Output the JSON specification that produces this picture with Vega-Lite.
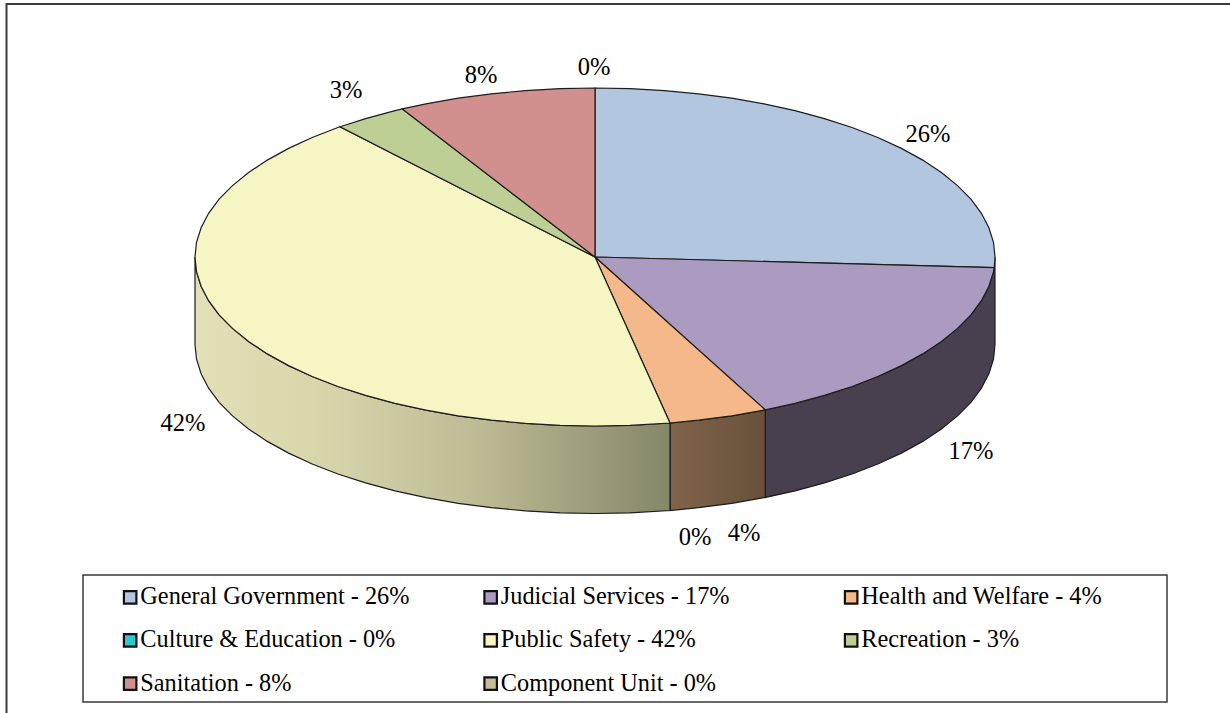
{"$schema":"https://vega.github.io/schema/vega-lite/v6.json","width":1230,"height":713,"autosize":"none","padding":0,"background":"white","view":{"stroke":null},
"encoding":{"x":{"field":"x","type":"quantitative","axis":null,"scale":{"domain":[-595,635],"nice":false,"zero":false}},"y":{"field":"y","type":"quantitative","axis":null,"scale":{"domain":[-456,257],"nice":false,"zero":false}}},
"layer":[
{"data":{"values":[{"i":0,"x":-588.5,"y":-456},{"i":1,"x":-588.5,"y":253},{"i":2,"x":635,"y":253}]},"mark":{"type":"line","stroke":"#3a3a3a","strokeWidth":2},"encoding":{"order":{"field":"i","type":"quantitative"}}},
{"data":{"values":[{"x":-512,"x2":572,"y":-318,"y2":-445}]},"mark":{"type":"rect","fill":"white","stroke":"#3a3a3a","strokeWidth":1.5},"encoding":{"x2":{"field":"x2"},"y2":{"field":"y2"}}},
{"data":{"values":[{"i":0,"x":400,"y":0},{"i":1,"x":398.5,"y":-14.7},{"i":2,"x":393.9,"y":-29.3},{"i":3,"x":386.4,"y":-43.7},{"i":4,"x":375.9,"y":-57.8},{"i":5,"x":362.5,"y":-71.4},{"i":6,"x":346.4,"y":-84.5},{"i":7,"x":327.7,"y":-96.9},{"i":8,"x":306.4,"y":-108.6},{"i":9,"x":282.8,"y":-119.5},{"i":10,"x":257.1,"y":-129.5},{"i":11,"x":229.4,"y":-138.4},{"i":12,"x":200,"y":-146.4},{"i":13,"x":170.3,"y":-152.9},{"i":14,"x":170.3,"y":-240.4},{"i":15,"x":200,"y":-233.9},{"i":16,"x":229.4,"y":-225.9},{"i":17,"x":257.1,"y":-217},{"i":18,"x":282.8,"y":-207},{"i":19,"x":306.4,"y":-196.1},{"i":20,"x":327.7,"y":-184.4},{"i":21,"x":346.4,"y":-172},{"i":22,"x":362.5,"y":-158.9},{"i":23,"x":375.9,"y":-145.3},{"i":24,"x":386.4,"y":-131.2},{"i":25,"x":393.9,"y":-116.8},{"i":26,"x":398.5,"y":-102.2},{"i":27,"x":400,"y":-87.5},{"i":28,"x":400,"y":0}]},"mark":{"type":"line","stroke":"#1c1c1c","strokeWidth":1.2,"fill":"#48404f"},"encoding":{"order":{"field":"i","type":"quantitative"}}},
{"data":{"values":[{"i":0,"x":170.3,"y":-152.9},{"i":1,"x":136.8,"y":-158.8},{"i":2,"x":103.5,"y":-163.2},{"i":3,"x":75,"y":-166},{"i":4,"x":75,"y":-253.5},{"i":5,"x":103.5,"y":-250.7},{"i":6,"x":136.8,"y":-246.3},{"i":7,"x":170.3,"y":-240.4},{"i":8,"x":170.3,"y":-152.9}]},"mark":{"type":"line","stroke":"#1c1c1c","strokeWidth":1.2,"fill":{"gradient":"linear","x1":0,"x2":1,"y1":0,"y2":0,"stops":[{"offset":0,"color":"#80644a"},{"offset":1,"color":"#68503a"}]}},"encoding":{"order":{"field":"i","type":"quantitative"}}},
{"data":{"values":[{"i":0,"x":75,"y":-166},{"i":1,"x":34.9,"y":-168.4},{"i":2,"x":0,"y":-169},{"i":3,"x":-34.9,"y":-168.4},{"i":4,"x":-69.5,"y":-166.4},{"i":5,"x":-103.5,"y":-163.2},{"i":6,"x":-136.8,"y":-158.8},{"i":7,"x":-169,"y":-153.2},{"i":8,"x":-200,"y":-146.4},{"i":9,"x":-229.4,"y":-138.4},{"i":10,"x":-257.1,"y":-129.5},{"i":11,"x":-282.8,"y":-119.5},{"i":12,"x":-306.4,"y":-108.6},{"i":13,"x":-327.7,"y":-96.9},{"i":14,"x":-346.4,"y":-84.5},{"i":15,"x":-362.5,"y":-71.4},{"i":16,"x":-375.9,"y":-57.8},{"i":17,"x":-386.4,"y":-43.7},{"i":18,"x":-393.9,"y":-29.3},{"i":19,"x":-398.5,"y":-14.7},{"i":20,"x":-400,"y":0},{"i":21,"x":-400,"y":-87.5},{"i":22,"x":-398.5,"y":-102.2},{"i":23,"x":-393.9,"y":-116.8},{"i":24,"x":-386.4,"y":-131.2},{"i":25,"x":-375.9,"y":-145.3},{"i":26,"x":-362.5,"y":-158.9},{"i":27,"x":-346.4,"y":-172},{"i":28,"x":-327.7,"y":-184.4},{"i":29,"x":-306.4,"y":-196.1},{"i":30,"x":-282.8,"y":-207},{"i":31,"x":-257.1,"y":-217},{"i":32,"x":-229.4,"y":-225.9},{"i":33,"x":-200,"y":-233.9},{"i":34,"x":-169,"y":-240.7},{"i":35,"x":-136.8,"y":-246.3},{"i":36,"x":-103.5,"y":-250.7},{"i":37,"x":-69.5,"y":-253.9},{"i":38,"x":-34.9,"y":-255.9},{"i":39,"x":0,"y":-256.5},{"i":40,"x":34.9,"y":-255.9},{"i":41,"x":75,"y":-253.5},{"i":42,"x":75,"y":-166}]},"mark":{"type":"line","stroke":"#1c1c1c","strokeWidth":1.2,"fill":{"gradient":"linear","x1":0,"x2":1,"y1":0,"y2":0,"stops":[{"offset":0,"color":"#e2e0b6"},{"offset":0.25,"color":"#d8d7ac"},{"offset":0.6,"color":"#bcbb94"},{"offset":1,"color":"#868669"}]}},"encoding":{"order":{"field":"i","type":"quantitative"}}},
{"data":{"values":[
{"slice":"General Government - 26%","i":0,"x":0,"y":0},{"slice":"General Government - 26%","i":1,"x":0,"y":169},{"slice":"General Government - 26%","i":2,"x":34.9,"y":168.4},{"slice":"General Government - 26%","i":3,"x":69.5,"y":166.4},{"slice":"General Government - 26%","i":4,"x":103.5,"y":163.2},{"slice":"General Government - 26%","i":5,"x":136.8,"y":158.8},{"slice":"General Government - 26%","i":6,"x":169,"y":153.2},{"slice":"General Government - 26%","i":7,"x":200,"y":146.4},{"slice":"General Government - 26%","i":8,"x":229.4,"y":138.4},{"slice":"General Government - 26%","i":9,"x":257.1,"y":129.5},{"slice":"General Government - 26%","i":10,"x":282.8,"y":119.5},{"slice":"General Government - 26%","i":11,"x":306.4,"y":108.6},{"slice":"General Government - 26%","i":12,"x":327.7,"y":96.9},{"slice":"General Government - 26%","i":13,"x":346.4,"y":84.5},{"slice":"General Government - 26%","i":14,"x":362.5,"y":71.4},{"slice":"General Government - 26%","i":15,"x":375.9,"y":57.8},{"slice":"General Government - 26%","i":16,"x":386.4,"y":43.7},{"slice":"General Government - 26%","i":17,"x":393.9,"y":29.3},{"slice":"General Government - 26%","i":18,"x":398.5,"y":14.7},{"slice":"General Government - 26%","i":19,"x":400,"y":0},{"slice":"General Government - 26%","i":20,"x":399.2,"y":-10.6},{"slice":"General Government - 26%","i":21,"x":0,"y":0},
{"slice":"Judicial Services - 17%","i":0,"x":0,"y":0},{"slice":"Judicial Services - 17%","i":1,"x":399.2,"y":-10.6},{"slice":"Judicial Services - 17%","i":2,"x":398.5,"y":-14.7},{"slice":"Judicial Services - 17%","i":3,"x":393.9,"y":-29.3},{"slice":"Judicial Services - 17%","i":4,"x":386.4,"y":-43.7},{"slice":"Judicial Services - 17%","i":5,"x":375.9,"y":-57.8},{"slice":"Judicial Services - 17%","i":6,"x":362.5,"y":-71.4},{"slice":"Judicial Services - 17%","i":7,"x":346.4,"y":-84.5},{"slice":"Judicial Services - 17%","i":8,"x":327.7,"y":-96.9},{"slice":"Judicial Services - 17%","i":9,"x":306.4,"y":-108.6},{"slice":"Judicial Services - 17%","i":10,"x":282.8,"y":-119.5},{"slice":"Judicial Services - 17%","i":11,"x":257.1,"y":-129.5},{"slice":"Judicial Services - 17%","i":12,"x":229.4,"y":-138.4},{"slice":"Judicial Services - 17%","i":13,"x":200,"y":-146.4},{"slice":"Judicial Services - 17%","i":14,"x":170.3,"y":-152.9},{"slice":"Judicial Services - 17%","i":15,"x":0,"y":0},
{"slice":"Health and Welfare - 4%","i":0,"x":0,"y":0},{"slice":"Health and Welfare - 4%","i":1,"x":170.3,"y":-152.9},{"slice":"Health and Welfare - 4%","i":2,"x":136.8,"y":-158.8},{"slice":"Health and Welfare - 4%","i":3,"x":103.5,"y":-163.2},{"slice":"Health and Welfare - 4%","i":4,"x":75,"y":-166},{"slice":"Health and Welfare - 4%","i":5,"x":0,"y":0},
{"slice":"Public Safety - 42%","i":0,"x":0,"y":0},{"slice":"Public Safety - 42%","i":1,"x":75,"y":-166},{"slice":"Public Safety - 42%","i":2,"x":34.9,"y":-168.4},{"slice":"Public Safety - 42%","i":3,"x":0,"y":-169},{"slice":"Public Safety - 42%","i":4,"x":-34.9,"y":-168.4},{"slice":"Public Safety - 42%","i":5,"x":-69.5,"y":-166.4},{"slice":"Public Safety - 42%","i":6,"x":-103.5,"y":-163.2},{"slice":"Public Safety - 42%","i":7,"x":-136.8,"y":-158.8},{"slice":"Public Safety - 42%","i":8,"x":-169,"y":-153.2},{"slice":"Public Safety - 42%","i":9,"x":-200,"y":-146.4},{"slice":"Public Safety - 42%","i":10,"x":-229.4,"y":-138.4},{"slice":"Public Safety - 42%","i":11,"x":-257.1,"y":-129.5},{"slice":"Public Safety - 42%","i":12,"x":-282.8,"y":-119.5},{"slice":"Public Safety - 42%","i":13,"x":-306.4,"y":-108.6},{"slice":"Public Safety - 42%","i":14,"x":-327.7,"y":-96.9},{"slice":"Public Safety - 42%","i":15,"x":-346.4,"y":-84.5},{"slice":"Public Safety - 42%","i":16,"x":-362.5,"y":-71.4},{"slice":"Public Safety - 42%","i":17,"x":-375.9,"y":-57.8},{"slice":"Public Safety - 42%","i":18,"x":-386.4,"y":-43.7},{"slice":"Public Safety - 42%","i":19,"x":-393.9,"y":-29.3},{"slice":"Public Safety - 42%","i":20,"x":-398.5,"y":-14.7},{"slice":"Public Safety - 42%","i":21,"x":-400,"y":0},{"slice":"Public Safety - 42%","i":22,"x":-398.5,"y":14.7},{"slice":"Public Safety - 42%","i":23,"x":-393.9,"y":29.3},{"slice":"Public Safety - 42%","i":24,"x":-386.4,"y":43.7},{"slice":"Public Safety - 42%","i":25,"x":-375.9,"y":57.8},{"slice":"Public Safety - 42%","i":26,"x":-362.5,"y":71.4},{"slice":"Public Safety - 42%","i":27,"x":-346.4,"y":84.5},{"slice":"Public Safety - 42%","i":28,"x":-327.7,"y":96.9},{"slice":"Public Safety - 42%","i":29,"x":-306.4,"y":108.6},{"slice":"Public Safety - 42%","i":30,"x":-282.8,"y":119.5},{"slice":"Public Safety - 42%","i":31,"x":-257.1,"y":129.5},{"slice":"Public Safety - 42%","i":32,"x":-255,"y":130.2},{"slice":"Public Safety - 42%","i":33,"x":0,"y":0},
{"slice":"Recreation - 3%","i":0,"x":0,"y":0},{"slice":"Recreation - 3%","i":1,"x":-255,"y":130.2},{"slice":"Recreation - 3%","i":2,"x":-229.4,"y":138.4},{"slice":"Recreation - 3%","i":3,"x":-200,"y":146.4},{"slice":"Recreation - 3%","i":4,"x":-192.7,"y":148.1},{"slice":"Recreation - 3%","i":5,"x":0,"y":0},
{"slice":"Sanitation - 8%","i":0,"x":0,"y":0},{"slice":"Sanitation - 8%","i":1,"x":-192.7,"y":148.1},{"slice":"Sanitation - 8%","i":2,"x":-169,"y":153.2},{"slice":"Sanitation - 8%","i":3,"x":-136.8,"y":158.8},{"slice":"Sanitation - 8%","i":4,"x":-103.5,"y":163.2},{"slice":"Sanitation - 8%","i":5,"x":-69.5,"y":166.4},{"slice":"Sanitation - 8%","i":6,"x":-34.9,"y":168.4},{"slice":"Sanitation - 8%","i":7,"x":0,"y":169},{"slice":"Sanitation - 8%","i":8,"x":0,"y":0}
]},"mark":{"type":"line","stroke":"#1c1c1c","strokeWidth":1.2},"encoding":{"order":{"field":"i","type":"quantitative"},"fill":{"field":"slice","type":"nominal","sort":null,"scale":{"domain":["General Government - 26%","Judicial Services - 17%","Health and Welfare - 4%","Culture & Education - 0%","Public Safety - 42%","Recreation - 3%","Sanitation - 8%","Component Unit - 0%"],"range":["#b3c6df","#ab9bc0","#f4b88a","#2fc8cc","#f6f6c4","#bdcf94","#d18f8d","#c4bd97"]},"legend":{"title":null,"orient":"none","legendX":118,"legendY":585,"direction":"horizontal","columns":3,"symbolType":"square","symbolSize":156,"symbolStrokeColor":"#111111","symbolStrokeWidth":2.2,"symbolOpacity":1,"labelFont":"Liberation Serif","labelFontSize":24.3,"labelColor":"#000000","labelLimit":500,"labelOffset":-2,"columnPadding":68.5,"rowPadding":18.2,"gridAlign":"all","padding":0}}}},
{"data":{"values":[{"label":"26%","x":333,"y":122},{"label":"17%","x":376,"y":-195},{"label":"4%","x":149,"y":-276.5},{"label":"0%","x":100,"y":-281},{"label":"42%","x":-412,"y":-167},{"label":"3%","x":-249,"y":166},{"label":"8%","x":-114,"y":181},{"label":"0%","x":-1,"y":189}]},"mark":{"type":"text","font":"Liberation Serif","fontSize":24.5,"color":"#000000","align":"center","baseline":"middle"},"encoding":{"text":{"field":"label","type":"nominal"}}}
]}
